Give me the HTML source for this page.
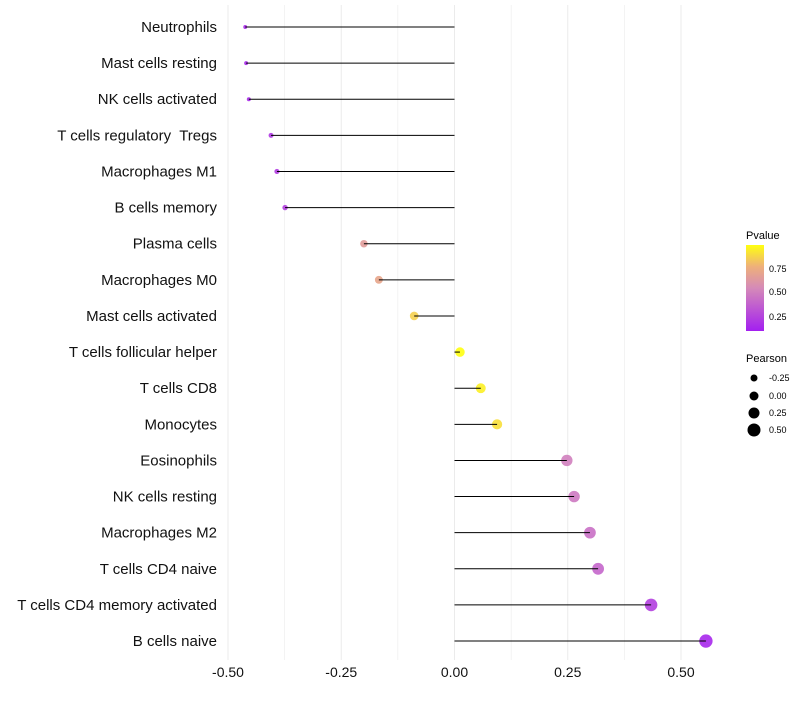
<!DOCTYPE html>
<html><head><meta charset="utf-8"><style>
body{margin:0;background:#fff;font-family:"Liberation Sans",sans-serif}
text{white-space:pre}
</style></head><body>
<svg id="chart" width="800" height="700" xmlns="http://www.w3.org/2000/svg">
<defs><linearGradient id="pg" x1="0" y1="1" x2="0" y2="0">
<stop offset="0" stop-color="#a31ff0"/><stop offset="0.5" stop-color="#d58ab8"/><stop offset="0.75" stop-color="#eeb07a"/><stop offset="1" stop-color="#ffff10"/>
</linearGradient></defs>
<g id="grid"></g><g id="marks"></g><g id="labels"></g>
<g>
<text x="746" y="239" font-size="11">Pvalue</text>
<rect x="746" y="245" width="18" height="86" fill="url(#pg)"/>
<text x="769" y="272" font-size="9">0.75</text>
<text x="769" y="295" font-size="9">0.50</text>
<text x="769" y="320" font-size="9">0.25</text>
</g>
<g font-size="9">
<text x="746" y="362" font-size="11">Pearson</text>
<circle cx="754" cy="378" r="3.5"/><text x="769" y="381">-0.25</text>
<circle cx="754" cy="396" r="4.5"/><text x="769" y="399">0.00</text>
<circle cx="754" cy="413" r="5.5"/><text x="769" y="416">0.25</text>
<circle cx="754" cy="430" r="6.5"/><text x="769" y="433">0.50</text>
</g>
</svg>
<script>
const categories=["Neutrophils","Mast cells resting","NK cells activated","T cells regulatory  Tregs","Macrophages M1","B cells memory","Plasma cells","Macrophages M0","Mast cells activated","T cells follicular helper","T cells CD8","Monocytes","Eosinophils","NK cells resting","Macrophages M2","T cells CD4 naive","T cells CD4 memory activated","B cells naive"];
const pearson=[-0.462,-0.46,-0.454,-0.405,-0.392,-0.374,-0.2,-0.167,-0.089,0.012,0.058,0.094,0.248,0.264,0.299,0.317,0.434,0.555];
const pvalue=[0.05,0.05,0.06,0.12,0.13,0.15,0.62,0.68,0.85,1.0,0.95,0.9,0.45,0.42,0.38,0.33,0.15,0.04];
const xticks=[-0.5,-0.25,0,0.25,0.5];
const xtickLabels=["-0.50","-0.25","0.00","0.25","0.50"];
const NS="http://www.w3.org/2000/svg";
const x=v=>454.5+v*453;
const y=i=>27+i*36.12;
const rad=p=>Math.sqrt(Math.max(2,22.25+40*p));
function lerp(a,b,t){return a.map((v,k)=>Math.round(v+(b[k]-v)*t));}
const stops=[[0,[163,31,240]],[0.5,[213,138,184]],[0.75,[238,176,122]],[1,[255,255,16]]];
function col(p){for(let k=1;k<stops.length;k++){if(p<=stops[k][0]){const t=(p-stops[k-1][0])/(stops[k][0]-stops[k-1][0]);return "rgb("+lerp(stops[k-1][1],stops[k][1],t).join(",")+")";}}return "rgb(255,255,16)";}
function mk(t,a,parent){const e=document.createElementNS(NS,t);for(const k in a)e.setAttribute(k,a[k]);parent.appendChild(e);return e;}
const grid=document.getElementById('grid'),marks=document.getElementById('marks'),labels=document.getElementById('labels');
for(let v=-0.5;v<=0.5001;v+=0.125){const l=mk('line',{x1:x(v),x2:x(v),y1:5,y2:660,stroke:'#ebebeb','stroke-width':Math.abs((v*4)%1)<0.01?1:0.6},grid);

}
xticks.forEach((v,i)=>{const t=mk('text',{x:x(v),y:677,'font-size':14,'text-anchor':'middle',fill:'#111'},labels);t.textContent=xtickLabels[i];

});
categories.forEach((c,i)=>{
const t=mk('text',{x:217,y:y(i)+5,'font-size':15,'text-anchor':'end',fill:'#111','xml:space':'preserve'},labels);t.textContent=c;


const d=mk('circle',{cx:x(pearson[i]),cy:y(i),r:rad(pearson[i]),fill:col(pvalue[i]),'fill-opacity':0.9},marks);


const l=mk('line',{x1:x(0),x2:x(pearson[i]),y1:y(i),y2:y(i),stroke:'#000','stroke-width':1},marks);


});
</script>
</body></html>
